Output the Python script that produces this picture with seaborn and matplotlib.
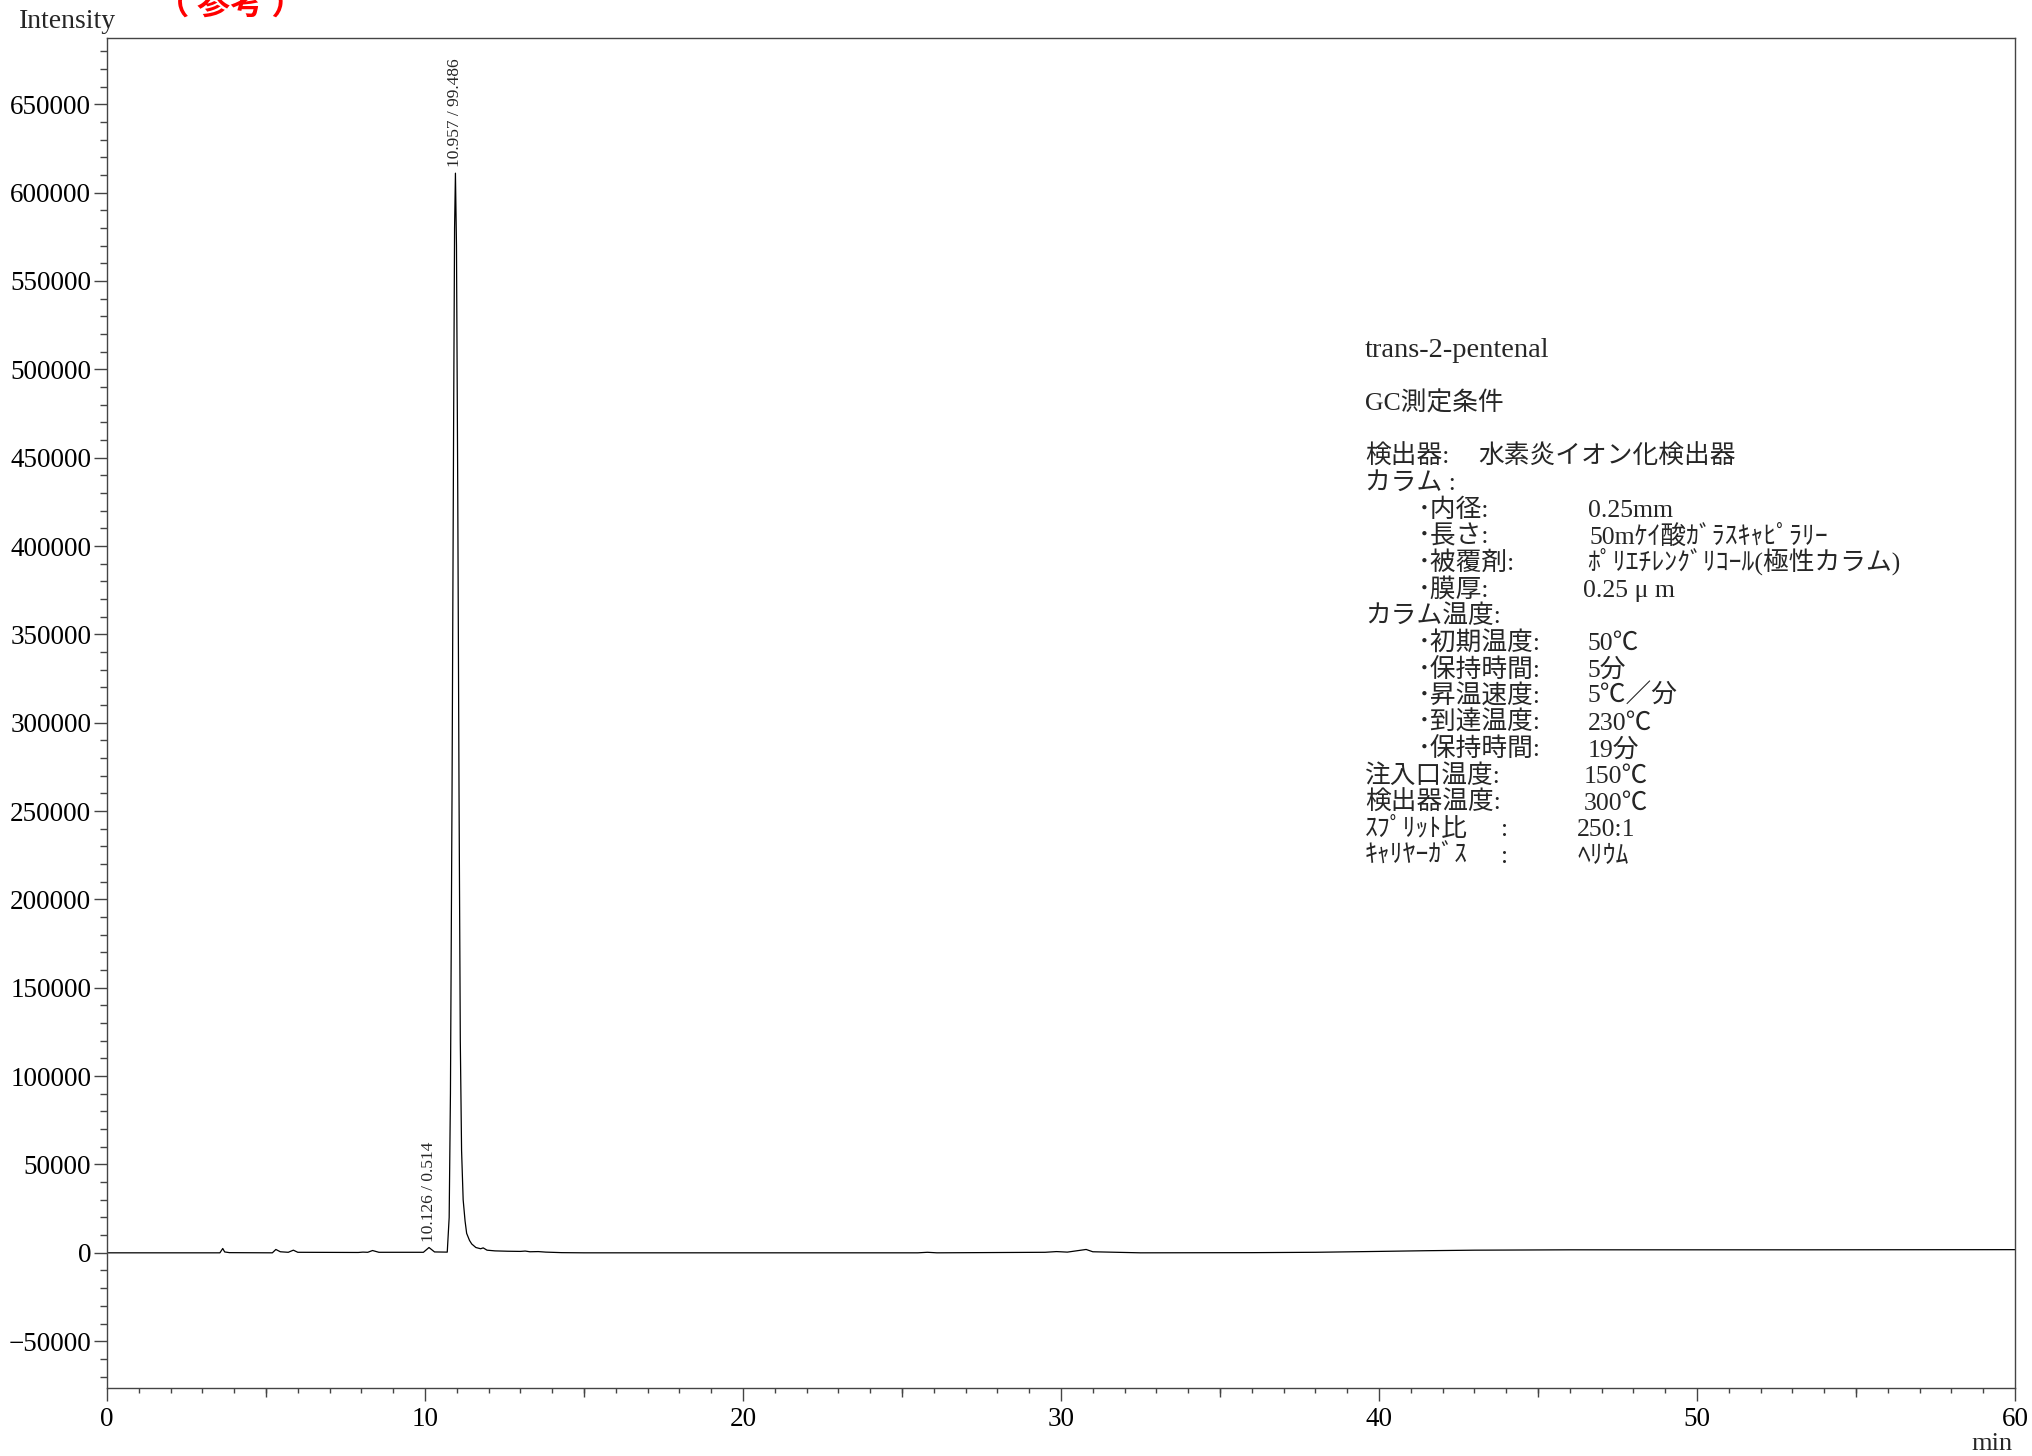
import numpy as np
import pandas as pd
import matplotlib
matplotlib.use('Agg')
import matplotlib.pyplot as plt
import seaborn as sns
from matplotlib.ticker import MultipleLocator, FuncFormatter

# chromatogram trace: retention time (min) / intensity
time_min = [0.0, 3.55, 3.64, 3.70, 3.85, 5.20, 5.31, 5.45, 5.70, 5.86,
            6.00, 7.90, 8.05, 8.20, 8.35, 8.55, 9.95, 10.126, 10.30, 10.70,
            10.76, 10.80, 10.85, 10.90, 10.93, 10.957, 10.99, 11.03, 11.07, 11.11,
            11.15, 11.20, 11.26, 11.31, 11.40, 11.47, 11.60, 11.75, 11.83, 11.95,
            12.20, 12.60, 13.00, 13.15, 13.30, 13.56, 13.80, 14.30, 15.0, 25.5,
            25.8, 26.1, 29.5, 29.86, 30.2, 30.79, 31.0, 31.5, 32.5, 36.0,
            38.0, 40.0, 41.5, 43.0, 46.0, 53.5, 60.0]
intensity = [0, 0, 2450, 500, 100, 0, 1900, 600, 300, 1500,
             300, 200, 400, 300, 1300, 300, 300, 3000, 500, 400,
             20000, 90000, 260000, 470000, 580000, 611000, 570000, 430000, 260000, 120000,
             58000, 30000, 18000, 11000, 7000, 5000, 3000, 2300, 2800, 1500,
             1100, 900, 800, 1000, 600, 700, 400, 100, 0, 0,
             300, 0, 300, 700, 400, 1900, 600, 400, 0, 100,
             300, 800, 1200, 1500, 1700, 1700, 1800]

# labelled peaks: retention time / area %
peak_rt = [10.126, 10.957]
peak_area = [0.514, 99.486]

sample_name = 'trans-2-pentenal'
cond_title = 'GC測定条件'
cond_labels = ['検出器:', 'カラム :', '･内径:', '･長さ:', '･被覆剤:', '･膜厚:',
               'カラム温度:', '･初期温度:', '･保持時間:', '･昇温速度:', '･到達温度:',
               '･保持時間:', '注入口温度:', '検出器温度:', 'ｽﾌﾟﾘｯﾄ比', 'ｷｬﾘﾔｰｶﾞｽ']
cond_values = ['水素炎イオン化検出器', '', '0.25mm', '50mｹｲ酸ｶﾞﾗｽｷｬﾋﾟﾗﾘｰ',
               'ﾎﾟﾘｴﾁﾚﾝｸﾞﾘｺｰﾙ(極性カラム)', '0.25 μ m', '', '50℃', '5分',
               '5℃／分', '230℃', '19分', '150℃', '300℃', '250:1', 'ﾍﾘｳﾑ']

# layout of the condition block (pixels in the 2033x1456 picture)
label_indent = [0, 0, 1, 1, 1, 1, 0, 1, 1, 1, 1, 1, 0, 0, 0, 0]
value_px = [1478, 0, 1588, 1590, 1587, 1583, 0, 1588, 1588, 1588, 1588, 1588,
            1584, 1584, 1577, 1578]
colon_px = [0] * 14 + [1501, 1501]

W, H = 2033, 1456


def fx(px):
    return px / W


def fy(px):
    return 1 - px / H


sns.set_style('ticks')
plt.rcParams['font.family'] = ['Liberation Serif', 'Noto Sans CJK JP']
plt.rcParams['axes.unicode_minus'] = True

fig = plt.figure(figsize=(W / 100, H / 100), dpi=100)
ax = fig.add_axes([fx(107), fy(1388), (2015 - 107) / W, (1388 - 38) / H])

df = pd.DataFrame({'time': time_min, 'signal': intensity})
sns.lineplot(data=df, x='time', y='signal', color='black', linewidth=0.9, ax=ax)
ax.set_xlabel('')
ax.set_ylabel('')

ax.set_xlim(0, 60)
ax.set_ylim(-76500, 687500)
ax.xaxis.set_major_locator(MultipleLocator(10))
ax.xaxis.set_minor_locator(MultipleLocator(1))
ax.yaxis.set_major_locator(MultipleLocator(50000))
ax.yaxis.set_minor_locator(MultipleLocator(10000))
ax.yaxis.set_major_formatter(FuncFormatter(lambda v, p: f'{v:.0f}'.replace('-', '\u2212')))

axis_col = '#444444'
for sp in ax.spines.values():
    sp.set_color(axis_col)
    sp.set_linewidth(1.0)
ax.tick_params(which='both', color=axis_col, width=1.0, labelsize=19.5, labelcolor='black')
ax.tick_params(axis='x', which='major', length=9.4, pad=4.0)
ax.tick_params(axis='x', which='minor', length=3.6)
ax.tick_params(axis='y', which='major', length=9.4, pad=1.9)
ax.tick_params(axis='y', which='minor', length=5.0)

# medium ticks every 5 min
sec = ax.secondary_xaxis('bottom')
sec.set_xticks(np.arange(5, 60, 10))
sec.tick_params(length=6.5, width=1.0, color=axis_col, labelbottom=False)
sec.spines['bottom'].set_visible(False)

# peak annotations
t_arr = np.array(time_min)
i_arr = np.array(intensity)
for rt, area in zip(peak_rt, peak_area):
    near = np.abs(t_arr - rt) < 0.05
    top = i_arr[near].max()
    ax.annotate(f'{rt:.3f} / {area:.3f}', xy=(rt, top), xytext=(0, 4.3),
                textcoords='offset points', rotation=90, ha='center', va='bottom',
                fontsize=12.5)

fig.text(fx(19), fy(28), 'Intensity', ha='left', va='baseline', fontsize=20)
fig.text(fx(2013), fy(1450), 'min', ha='right', va='baseline', fontsize=19)
fig.text(fx(230), fy(14), '（ 参考 ）', ha='center', va='baseline', fontsize=24,
         color='#ff0000', fontweight='bold', family=['Noto Sans CJK JP'])

# condition block
txt_size = 18.5
step = 26.63
base0 = 357
fig.text(fx(1365), fy(base0), sample_name, ha='left', va='baseline', fontsize=20.5)
fig.text(fx(1365), fy(base0 + 2 * step), cond_title, ha='left', va='baseline', fontsize=txt_size)
for i, (lab, val) in enumerate(zip(cond_labels, cond_values)):
    yb = fy(base0 + (4 + i) * step)
    fig.text(fx(1365 + 53 * label_indent[i]), yb, lab, ha='left', va='baseline', fontsize=txt_size)
    if colon_px[i]:
        fig.text(fx(colon_px[i]), yb, ':', ha='left', va='baseline', fontsize=txt_size)
    if val:
        fig.text(fx(value_px[i]), yb, val, ha='left', va='baseline', fontsize=txt_size)

fig.savefig('out.png', dpi=100)
